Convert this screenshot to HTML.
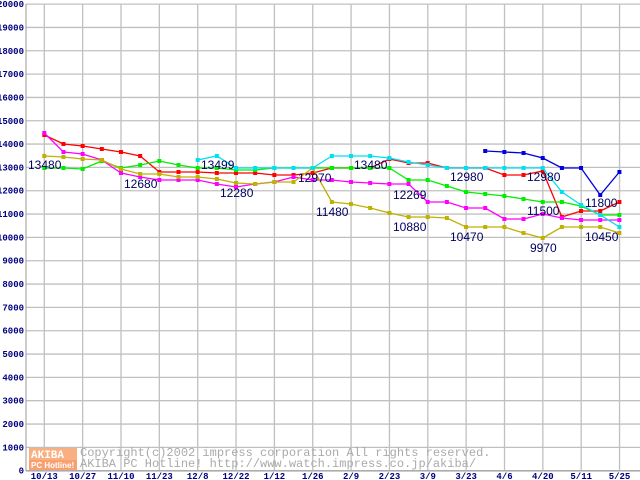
<!DOCTYPE html>
<html><head><meta charset="utf-8"><style>
body{margin:0;background:#fff;width:640px;height:480px;overflow:hidden}
svg{display:block}
.yl{font:bold 9px "Liberation Mono",monospace;fill:#000080}
.xl{font:bold 9px "Liberation Mono",monospace;fill:#000080}
.lb{font:12px "Liberation Sans",sans-serif;fill:#000060}
</style></head><body>
<svg width="640" height="480" xmlns="http://www.w3.org/2000/svg">
<g id="grid" stroke="#c0c0c0" stroke-width="1.3"></g>
<line x1="26" y1="4" x2="26" y2="471" stroke="#999"/>
<line x1="26" y1="471" x2="640" y2="471" stroke="#999"/>
<g id="yl"></g><g id="xl"></g>
<g id="series" fill="none" stroke-width="1.3"></g>
<g>
<rect x="29" y="448" width="48" height="12" fill="#f8b080"/>
<text x="31" y="458" font-family="Liberation Mono" font-size="11" font-weight="bold" fill="#fff">AKIBA</text>
<rect x="29" y="460" width="48" height="10" fill="#f8a070"/>
<text x="31" y="468" font-family="Liberation Sans" font-size="8" font-weight="bold" fill="#fff">PC Hotline!</text>
<text x="80" y="456" font-family="Liberation Mono" font-size="12" fill="#aaa">Copyright(c)2002 impress corporation All rights reserved.</text>
<text x="80" y="467" font-family="Liberation Mono" font-size="12" fill="#aaa">AKIBA PC Hotline!  http://www.watch.impress.co.jp/akiba/</text>
</g>
<g class="lb">
<text x="28" y="169">13480</text><text x="124" y="188">12680</text>
<text x="201" y="169">13499</text><text x="220" y="197">12280</text>
<text x="298" y="182">12970</text><text x="316" y="216">11480</text>
<text x="354" y="169">13480</text><text x="393" y="199">12269</text>
<text x="393" y="231">10880</text><text x="450" y="181">12980</text>
<text x="450" y="241">10470</text><text x="527" y="181">12980</text>
<text x="527" y="215">11500</text><text x="530" y="252">9970</text>
<text x="585" y="207">11800</text><text x="585" y="241">10450</text>
</g>
</svg>
<script>
const NS="http://www.w3.org/2000/svg";
function el(t,a,p,txt){const e=document.createElementNS(NS,t);for(const k in a)e.setAttribute(k,a[k]);if(txt!=null)e.textContent=txt;document.getElementById(p).appendChild(e);return e;}
for(let i=0;i<=20;i++){const y=470.7-i*23.33;el('line',{x1:26,x2:640,y1:y,y2:y},'grid');
 el('text',{x:24,y:y+3,'text-anchor':'end',class:'yl'},'yl',i*1000);}
const xs=['10/13','10/27','11/10','11/23','12/8','12/22','1/12','1/26','2/9','2/23','3/9','3/23','4/6','4/20','5/11','5/25'];
xs.forEach((t,i)=>{const x=44.3+38.35*i;el('line',{x1:x,x2:x,y1:4,y2:471},'grid');
 el('text',{x:x,y:479,'text-anchor':'middle',class:'xl'},'xl',t);});
const X=k=>44.3+19.17*k;
const N=null;
const S=[
['#ff0000',[135,144,146,149,152,156,172,172,172,173,173,173,175,175,173,168,168,168,159,163,163,168,168,168,175,175,171,217,211,211,202]],
['#00ee00',[168,168,169,161,168,165,161,165,168,168,170,170,168,168,168,168,168,168,168,180,180,186,192,194,196,199,202,202,206,215,215]],
['#ff00ff',[133,152,154,160,173,177,180,180,180,184,187,184,182,177,180,180,182,183,184,184,202,202,208,208,219,219,214,218,220,220,220]],
['#c0b000',[156,157,159,160,169,174,174,177,177,179,183,184,182,182,168,202,204,208,213,217,217,218,227,227,227,233,238,227,227,227,233]],
['#00e0f0',[N,N,N,N,N,N,N,N,160,156,168,168,168,168,168,156,156,156,158,162,165,168,168,168,168,168,168,192,205,215,227]],
['#0000dd',[N,N,N,N,N,N,N,N,N,N,N,N,N,N,N,N,N,N,N,N,N,N,N,151,152,153,158,168,168,195,172]]
];
S.forEach(([c,v])=>{let pts=[];v.forEach((y,k)=>{if(y!=null){pts.push(X(k)+','+y);el('rect',{x:X(k)-2,y:y-2,width:4,height:4,fill:c},'series');}});
 el('polyline',{points:pts.join(' '),stroke:c},'series');});
</script>
</body></html>
